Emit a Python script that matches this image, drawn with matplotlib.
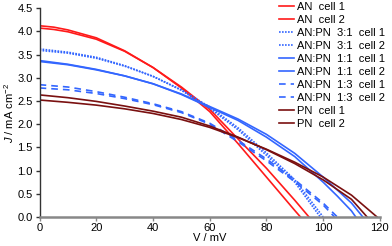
import matplotlib
matplotlib.use("Agg")
import matplotlib.pyplot as plt

plt.rcParams['font.family'] = ['Liberation Sans', 'DejaVu Sans']
plt.rcParams['mathtext.fontset'] = 'custom'
plt.rcParams['mathtext.rm'] = 'Liberation Sans'
plt.rcParams['mathtext.it'] = 'Liberation Sans:italic'

# J-V curves, values (V in mV, J in mA cm^-2)
v_an1 = [0, 5, 10, 20, 30, 40, 50, 60, 70, 80, 90, 92]
j_an1 = [4.12, 4.09, 4.03, 3.86, 3.58, 3.22, 2.78, 2.27, 1.58, 0.86, 0.14, 0.0]
v_an2 = [0, 5, 10, 20, 30, 40, 50, 60, 70, 80, 90, 95]
j_an2 = [4.07, 4.04, 3.99, 3.83, 3.57, 3.22, 2.80, 2.32, 1.68, 1.05, 0.36, 0.0]

v_31a = [0, 10, 20, 30, 40, 50, 60, 70, 80, 90, 99]
j_31a = [3.62, 3.55, 3.44, 3.26, 3.03, 2.73, 2.34, 1.88, 1.33, 0.75, 0.0]
v_31b = [0, 10, 20, 30, 40, 50, 60, 70, 80, 90, 100]
j_31b = [3.59, 3.53, 3.42, 3.25, 3.03, 2.74, 2.37, 1.92, 1.38, 0.80, 0.0]

v_11a = [0, 10, 20, 30, 40, 50, 60, 70, 80, 90, 100, 105, 110, 111.5]
j_11a = [3.37, 3.29, 3.18, 3.04, 2.87, 2.64, 2.36, 2.08, 1.72, 1.30, 0.75, 0.45, 0.13, 0.0]
v_11b = [0, 10, 20, 30, 40, 50, 60, 70, 80, 90, 100, 105, 110, 114]
j_11b = [3.35, 3.28, 3.17, 3.04, 2.87, 2.65, 2.38, 2.11, 1.78, 1.37, 0.86, 0.58, 0.30, 0.0]

v_13a = [0, 10, 20, 30, 40, 50, 60, 70, 80, 90, 100, 105]
j_13a = [2.85, 2.80, 2.70, 2.58, 2.44, 2.27, 2.02, 1.65, 1.25, 0.80, 0.30, 0.0]
v_13b = [0, 10, 20, 30, 40, 50, 60, 70, 80, 90, 100, 104]
j_13b = [2.78, 2.74, 2.66, 2.55, 2.42, 2.25, 2.00, 1.62, 1.21, 0.76, 0.26, 0.0]

v_pn1 = [0, 10, 20, 30, 40, 50, 60, 70, 80, 90, 100, 110, 115.5]
j_pn1 = [2.63, 2.57, 2.49, 2.39, 2.28, 2.15, 1.96, 1.72, 1.45, 1.15, 0.80, 0.38, 0.0]
v_pn2 = [0, 10, 20, 30, 40, 50, 60, 70, 80, 90, 100, 110, 119]
j_pn2 = [2.52, 2.47, 2.41, 2.33, 2.23, 2.10, 1.93, 1.71, 1.46, 1.18, 0.86, 0.47, 0.0]

labels = ["AN  cell 1", "AN  cell 2",
          "AN:PN  3:1  cell 1", "AN:PN  3:1  cell 2",
          "AN:PN  1:1  cell 1", "AN:PN  1:1  cell 2",
          "AN:PN  1:3  cell 1", "AN:PN  1:3  cell 2",
          "PN  cell 1", "PN  cell 2"]

red = "#ff1a1a"
blue = "#3366ff"
brown = "#7a1010"
dotted = (0, (1, 0.8))
dashed = (0, (4, 3))

curves = [
    (v_an1, j_an1, red, "-"), (v_an2, j_an2, red, "-"),
    (v_31a, j_31a, blue, dotted), (v_31b, j_31b, blue, dotted),
    (v_11a, j_11a, blue, "-"), (v_11b, j_11b, blue, "-"),
    (v_13a, j_13a, blue, dashed), (v_13b, j_13b, blue, dashed),
    (v_pn1, j_pn1, brown, "-"), (v_pn2, j_pn2, brown, "-"),
]

fig = plt.figure(figsize=(3.92, 2.46), dpi=100)
ax = fig.add_axes([0.101, 0.118, 0.868, 0.849])

for (v, j, c, ls), lab in zip(curves, labels):
    ax.plot(v, j, color=c, linestyle=ls, linewidth=1.2, label=lab)

ax.set_xlim(0, 120)
ax.set_ylim(0, 4.5)
ax.set_xticks(range(0, 121, 20))
ax.set_yticks([0.0, 0.5, 1.0, 1.5, 2.0, 2.5, 3.0, 3.5, 4.0, 4.5])
ax.yaxis.set_major_formatter(matplotlib.ticker.FormatStrFormatter('%.1f'))

for s in ["top", "right"]:
    ax.spines[s].set_visible(False)
ax.spines["left"].set_color("#333333")
ax.spines["left"].set_linewidth(1.0)
ax.spines["bottom"].set_color("#888888")
ax.spines["bottom"].set_linewidth(1.8)
ax.tick_params(axis="x", direction="out", length=3, width=1, color="#888888",
               labelsize=8, pad=1.5)
ax.tick_params(axis="y", direction="out", length=3, width=1, color="#333333",
               labelsize=8, pad=2)

ax.set_xlabel("V / mV", fontsize=8, labelpad=0)
ax.set_ylabel(r"$J$ / mA cm$^{-2}$", fontsize=8, labelpad=1)

ax.legend(loc="upper right", bbox_to_anchor=(1.035, 1.06), frameon=False,
          fontsize=8, handlelength=1.4, handletextpad=0.25,
          labelspacing=0.27, borderaxespad=0.2)

fig.savefig("out.png", dpi=100)
